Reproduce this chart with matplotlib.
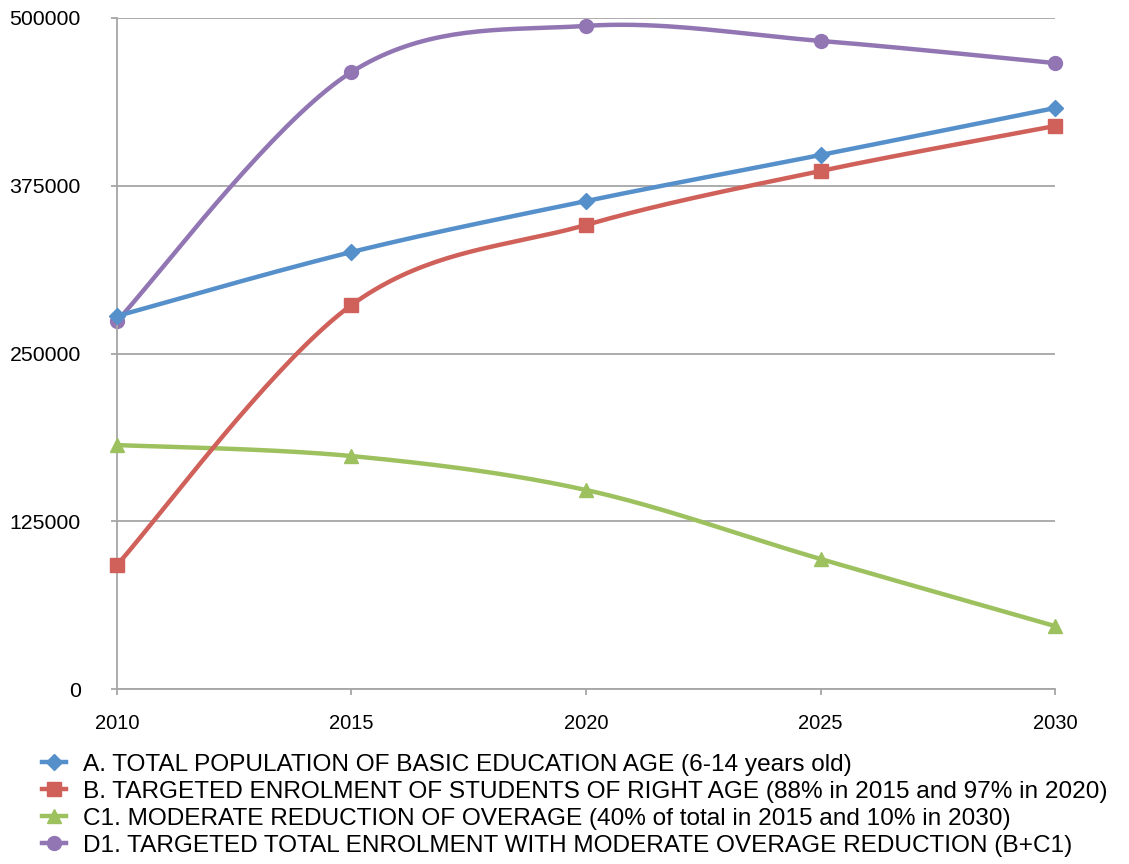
import numpy as np
import matplotlib.pyplot as plt

plt.rcParams['font.family'] = ['Liberation Sans', 'DejaVu Sans']

years = ['2010', '2015', '2020', '2025', '2030']
total_pop = [277900, 325600, 363600, 397900, 432900]           # A
right_age = [92400, 286100, 345800, 386000, 419500]            # B
overage = [181800, 173600, 148300, 96900, 46900]               # C1
total_enrol = [274200, 459700, 494100, 482900, 466400]         # D1 = B + C1

labels = ['A. TOTAL POPULATION OF BASIC EDUCATION AGE (6-14 years old)',
          'B. TARGETED ENROLMENT OF STUDENTS OF RIGHT AGE (88% in 2015 and 97% in 2020)',
          'C1. MODERATE REDUCTION OF OVERAGE (40% of total in 2015 and 10% in 2030)',
          'D1. TARGETED TOTAL ENROLMENT WITH MODERATE OVERAGE REDUCTION (B+C1)']
colors = ['#5690CB', '#D0605A', '#9DC15E', '#9276B4']
markers = ['D', 's', '^', 'o']
msizes = [8, 10, 10, 10]


def smooth(x, y, n=40):
    # catmull-rom style bezier between points (like spreadsheet "smoothed line")
    p = np.column_stack([x, y]).astype(float)
    p = np.vstack([p[0], p, p[-1]])
    out = []
    t = np.linspace(0, 1, n)[:, None]
    for i in range(1, len(p) - 2):
        p0, p1 = p[i], p[i + 1]
        c1 = p0 + (p[i + 1] - p[i - 1]) / 6
        c2 = p1 - (p[i + 2] - p[i]) / 6
        seg = (1 - t)**3 * p0 + 3 * (1 - t)**2 * t * c1 + 3 * (1 - t) * t**2 * c2 + t**3 * p1
        out.append(seg if i == 1 else seg[1:])
    s = np.vstack(out)
    return s[:, 0], s[:, 1]


fig = plt.figure(figsize=(11.29, 8.64), dpi=100)
ax = fig.add_axes([0.1036, 0.2025, 0.8309, 0.7767])

x = np.arange(len(years))
series = [total_pop, right_age, overage, total_enrol]
zs = [5, 4, 3, 2]
handles = []
for vals, lab, c, m, ms, z in zip(series, labels, colors, markers, msizes, zs):
    sx, sy = smooth(x, vals)
    ax.plot(sx, sy, color=c, lw=3.2, zorder=z, solid_capstyle='round', clip_on=False)
    ax.plot(x, vals, ls='none', marker=m, ms=ms, color=c, zorder=z + 0.5, clip_on=False)
    h, = ax.plot([], [], color=c, lw=3.2, marker=m, ms=ms)
    handles.append(h)

ax.set_xlim(0, 4)
ax.set_ylim(0, 500000)
ax.set_yticks([0, 125000, 250000, 375000, 500000])
ax.set_xticks(x)
ax.set_xticklabels(years)
ax.yaxis.grid(True, color='#A6A6A6', lw=1.3)
ax.set_axisbelow(True)
for s in ['top', 'right']:
    ax.spines[s].set_visible(False)
for s in ['left', 'bottom']:
    ax.spines[s].set_color('#A6A6A6')
    ax.spines[s].set_linewidth(1.3)
ax.tick_params(axis='both', colors='#A6A6A6', length=4, width=1.3, labelcolor='black')
ax.tick_params(axis='x', pad=14, labelsize=14.5)
ax.tick_params(axis='y', pad=22, labelsize=15.3)

fig.legend(handles, labels, loc='upper left', bbox_to_anchor=(0.037, 0.128),
           frameon=False, fontsize=17.6, handlelength=1.0, handletextpad=0.7,
           labelspacing=0.2, borderaxespad=0, borderpad=0)

plt.savefig('out.png', dpi=100)
